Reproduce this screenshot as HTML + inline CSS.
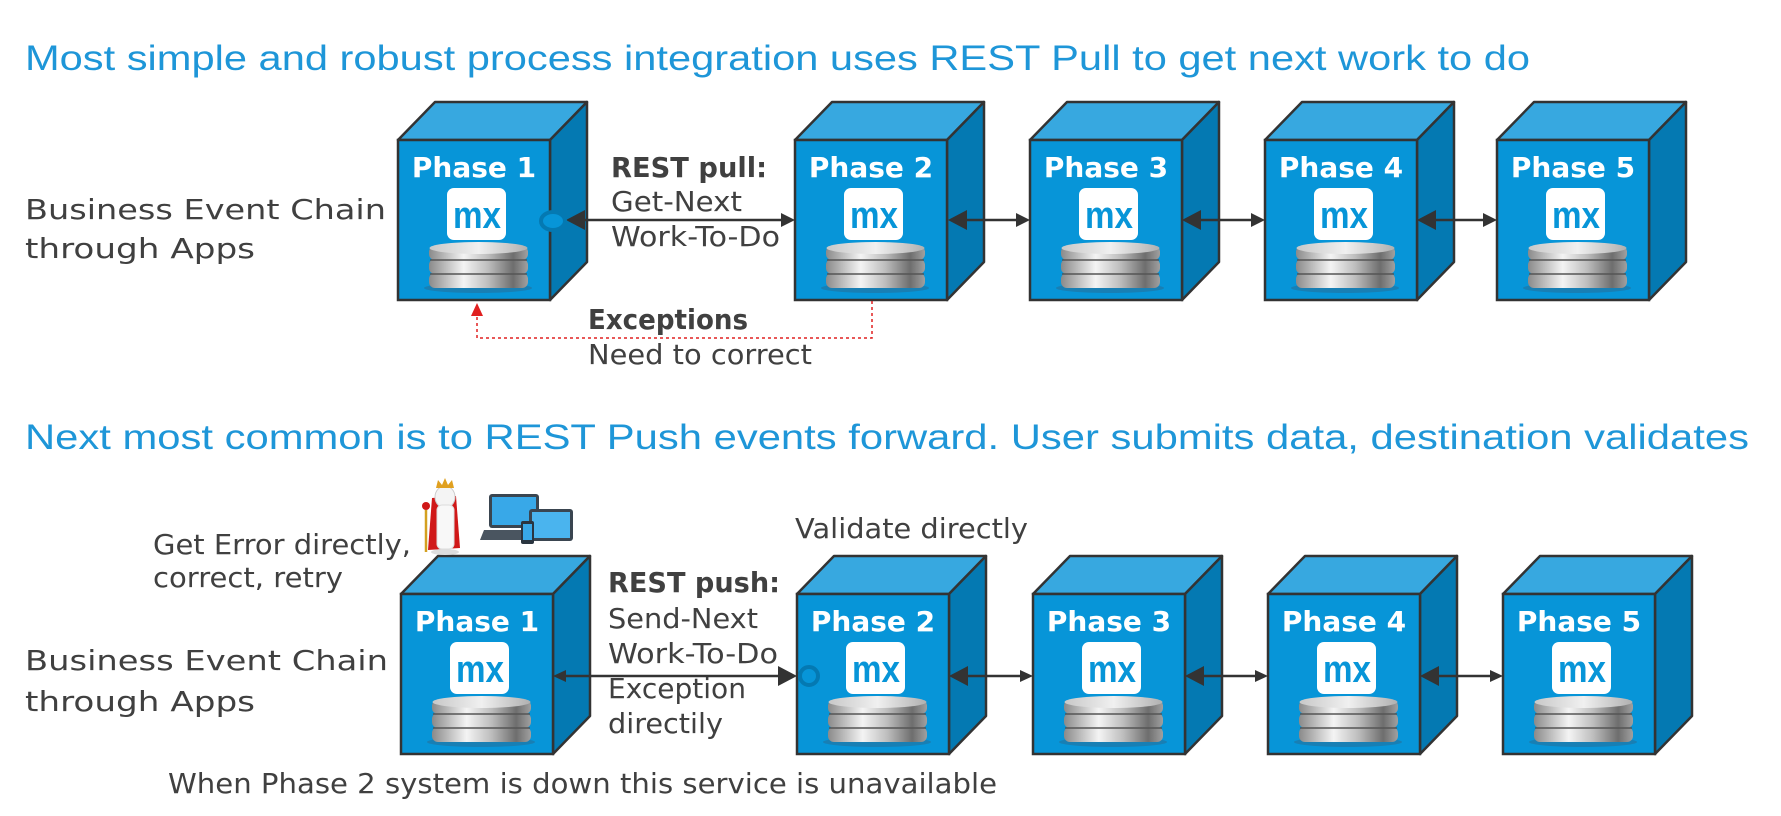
<!DOCTYPE html>
<html><head><meta charset="utf-8"><style>
html,body{margin:0;padding:0;background:#fff;}
svg{display:block;}
.t{font-family:"DejaVu Sans","Liberation Sans",sans-serif;fill:#404040;font-size:28px;}
.b{font-weight:bold;}
.ti{font-family:"Liberation Sans",sans-serif;fill:#1e96d8;font-size:35px;}
.ph{font-family:"DejaVu Sans","Liberation Sans",sans-serif;fill:#fff;font-weight:bold;font-size:28px;text-anchor:middle;}
.mx{font-family:"Liberation Sans",sans-serif;fill:#0795d8;font-weight:bold;font-size:38px;text-anchor:middle;}
</style></head><body>
<svg width="1781" height="816" viewBox="0 0 1781 816" xmlns="http://www.w3.org/2000/svg">
<defs>
<linearGradient id="disk" x1="0" x2="1" y1="0" y2="0">
<stop offset="0" stop-color="#8a8a8a"/><stop offset="0.35" stop-color="#f4f4f4"/><stop offset="0.6" stop-color="#bdbdbd"/><stop offset="0.85" stop-color="#6e6e6e"/><stop offset="1" stop-color="#a0a0a0"/>
</linearGradient>
<linearGradient id="dtop" x1="0" x2="1"><stop offset="0" stop-color="#c8c8c8"/><stop offset="0.5" stop-color="#f0f0f0"/><stop offset="1" stop-color="#b0b0b0"/></linearGradient>
<g id="cube">
<polygon points="0,0 37,-38 189,-38 152,0" fill="#37a8e0" stroke="#333" stroke-width="2.5" stroke-linejoin="round"/>
<polygon points="152,0 189,-38 189,122 152,160" fill="#0479b2" stroke="#333" stroke-width="2.5" stroke-linejoin="round"/>
<rect x="0" y="0" width="152" height="160" fill="#0795d8" stroke="#333" stroke-width="2.5"/>
<rect x="49" y="48" width="59" height="52" rx="7" fill="#fff"/>
<ellipse cx="80" cy="148" rx="54" ry="5" fill="#2a6a90" opacity="0.5"/>
<rect x="31" y="133" width="99" height="15" rx="6" fill="url(#disk)"/>
<rect x="31" y="119" width="99" height="15" rx="6" fill="url(#disk)"/>
<rect x="31" y="106" width="99" height="14" rx="6" fill="url(#disk)"/>
<ellipse cx="80.5" cy="108" rx="49" ry="6" fill="url(#dtop)"/>
<line x1="32" y1="120" x2="129" y2="120" stroke="#555" stroke-width="1.5"/>
<line x1="32" y1="134" x2="129" y2="134" stroke="#555" stroke-width="1.5"/>
</g>
</defs>

<text class="ti" x="25" y="70" textLength="1505" lengthAdjust="spacingAndGlyphs">Most simple and robust process integration uses REST Pull to get next work to do</text>
<text class="ti" x="25" y="449" textLength="1724" lengthAdjust="spacingAndGlyphs">Next most common is to REST Push events forward. User submits data, destination validates</text>

<use href="#cube" x="398" y="140"/><use href="#cube" x="795" y="140"/><use href="#cube" x="1030" y="140"/><use href="#cube" x="1265" y="140"/><use href="#cube" x="1497" y="140"/>
<text class="ph" x="474" y="177">Phase 1</text><text class="ph" x="871" y="177">Phase 2</text><text class="ph" x="1106" y="177">Phase 3</text><text class="ph" x="1341" y="177">Phase 4</text><text class="ph" x="1573" y="177">Phase 5</text>
<text class="mx" x="477" y="228" textLength="48" lengthAdjust="spacingAndGlyphs">mx</text><text class="mx" x="874" y="228" textLength="48" lengthAdjust="spacingAndGlyphs">mx</text><text class="mx" x="1109" y="228" textLength="48" lengthAdjust="spacingAndGlyphs">mx</text><text class="mx" x="1344" y="228" textLength="48" lengthAdjust="spacingAndGlyphs">mx</text><text class="mx" x="1576" y="228" textLength="48" lengthAdjust="spacingAndGlyphs">mx</text>

<use href="#cube" x="401" y="594"/><use href="#cube" x="797" y="594"/><use href="#cube" x="1033" y="594"/><use href="#cube" x="1268" y="594"/><use href="#cube" x="1503" y="594"/>
<text class="ph" x="477" y="631">Phase 1</text><text class="ph" x="873" y="631">Phase 2</text><text class="ph" x="1109" y="631">Phase 3</text><text class="ph" x="1344" y="631">Phase 4</text><text class="ph" x="1579" y="631">Phase 5</text>
<text class="mx" x="480" y="682" textLength="48" lengthAdjust="spacingAndGlyphs">mx</text><text class="mx" x="876" y="682" textLength="48" lengthAdjust="spacingAndGlyphs">mx</text><text class="mx" x="1112" y="682" textLength="48" lengthAdjust="spacingAndGlyphs">mx</text><text class="mx" x="1347" y="682" textLength="48" lengthAdjust="spacingAndGlyphs">mx</text><text class="mx" x="1582" y="682" textLength="48" lengthAdjust="spacingAndGlyphs">mx</text>

<g stroke="#333" stroke-width="2.5" fill="none">
<line x1="570" y1="220" x2="788" y2="220"/><line x1="955" y1="220" x2="1024" y2="220"/><line x1="1188" y1="220" x2="1259" y2="220"/><line x1="1423" y1="220" x2="1491" y2="220"/>
<line x1="557" y1="676" x2="790" y2="676"/><line x1="955" y1="676" x2="1027" y2="676"/><line x1="1191" y1="676" x2="1262" y2="676"/><line x1="1426" y1="676" x2="1497" y2="676"/>
</g>
<g fill="#333">
<polygon points="566,220 585,210 585,230"/><polygon points="795,220 781,213 781,227"/>
<polygon points="948,220 967,210 967,230"/><polygon points="1030,220 1016,213 1016,227"/>
<polygon points="1182,220 1201,210 1201,230"/><polygon points="1265,220 1251,213 1251,227"/>
<polygon points="1417,220 1436,210 1436,230"/><polygon points="1497,220 1483,213 1483,227"/>
<polygon points="553,676 566,670 566,682"/><polygon points="797,676 778,666 778,686"/>
<polygon points="949,676 968,666 968,686"/><polygon points="1033,676 1020,670 1020,682"/>
<polygon points="1185,676 1204,666 1204,686"/><polygon points="1268,676 1255,670 1255,682"/>
<polygon points="1420,676 1439,666 1439,686"/><polygon points="1503,676 1490,670 1490,682"/>
</g>
<ellipse cx="553" cy="221" rx="12" ry="9" fill="#0795d8" stroke="#0479b2" stroke-width="4"/>
<circle cx="809" cy="676" r="9" fill="#0795d8" stroke="#0479b2" stroke-width="4"/>

<path d="M872 301 V338 H477 V316" fill="none" stroke="#e02020" stroke-width="1.5" stroke-dasharray="3,3"/>
<polygon points="477,303 471,316 483,316" fill="#e02020"/>

<text class="t" x="25" y="219" textLength="361" lengthAdjust="spacingAndGlyphs">Business Event Chain</text>
<text class="t" x="25" y="258" textLength="230" lengthAdjust="spacingAndGlyphs">through Apps</text>
<text class="t" x="25" y="670" textLength="363" lengthAdjust="spacingAndGlyphs">Business Event Chain</text>
<text class="t" x="25" y="711" textLength="230" lengthAdjust="spacingAndGlyphs">through Apps</text>
<text class="t b" x="611" y="177" textLength="156" lengthAdjust="spacingAndGlyphs">REST pull:</text>
<text class="t" x="611" y="211" textLength="131" lengthAdjust="spacingAndGlyphs">Get-Next</text>
<text class="t" x="611" y="246" textLength="169" lengthAdjust="spacingAndGlyphs">Work-To-Do</text>
<text class="t b" x="588" y="329" textLength="160" lengthAdjust="spacingAndGlyphs">Exceptions</text>
<text class="t" x="588" y="364" textLength="224" lengthAdjust="spacingAndGlyphs">Need to correct</text>
<text class="t" x="153" y="554" textLength="258" lengthAdjust="spacingAndGlyphs">Get Error directly,</text>
<text class="t" x="153" y="587" textLength="190" lengthAdjust="spacingAndGlyphs">correct, retry</text>
<text class="t" x="795" y="538" textLength="233" lengthAdjust="spacingAndGlyphs">Validate directly</text>
<text class="t b" x="608" y="592" textLength="172" lengthAdjust="spacingAndGlyphs">REST push:</text>
<text class="t" x="608" y="628" textLength="150" lengthAdjust="spacingAndGlyphs">Send-Next</text>
<text class="t" x="608" y="663" textLength="170" lengthAdjust="spacingAndGlyphs">Work-To-Do</text>
<text class="t" x="608" y="698" textLength="138" lengthAdjust="spacingAndGlyphs">Exception</text>
<text class="t" x="608" y="733" textLength="115" lengthAdjust="spacingAndGlyphs">directily</text>
<text class="t" x="168" y="793" textLength="829" lengthAdjust="spacingAndGlyphs">When Phase 2 system is down this service is unavailable</text>

<g>
<polygon points="432,498 456,496 460,548 428,550" fill="#d01818"/>
<ellipse cx="445" cy="497" rx="10" ry="11" fill="#f4f4f4" stroke="#ccc"/>
<rect x="437" y="505" width="17" height="44" rx="5" fill="#f8f8f8" stroke="#ddd"/>
<polygon points="436,488 438,480 442,485 445,478 448,485 452,480 454,488" fill="#e0a020"/>
<line x1="426" y1="510" x2="426" y2="552" stroke="#d4a020" stroke-width="2.5"/>
<circle cx="426" cy="506" r="4" fill="#d01818"/>
<ellipse cx="445" cy="552" rx="14" ry="3" fill="#ddd"/>
</g>
<g>
<rect x="489" y="494" width="50" height="34" rx="3" fill="#3a4550"/>
<rect x="492" y="497" width="44" height="28" fill="#38a8e8"/>
<polygon points="484,530 544,530 548,540 480,540" fill="#4a5560"/>
<rect x="529" y="509" width="44" height="32" rx="3" fill="#3a4550"/>
<rect x="532" y="512" width="38" height="26" fill="#4ab4ee"/>
<rect x="521" y="521" width="13" height="23" rx="2" fill="#2a3540"/>
<rect x="523" y="524" width="9" height="16" fill="#38a8e8"/>
</g>
</svg>
</body></html>
